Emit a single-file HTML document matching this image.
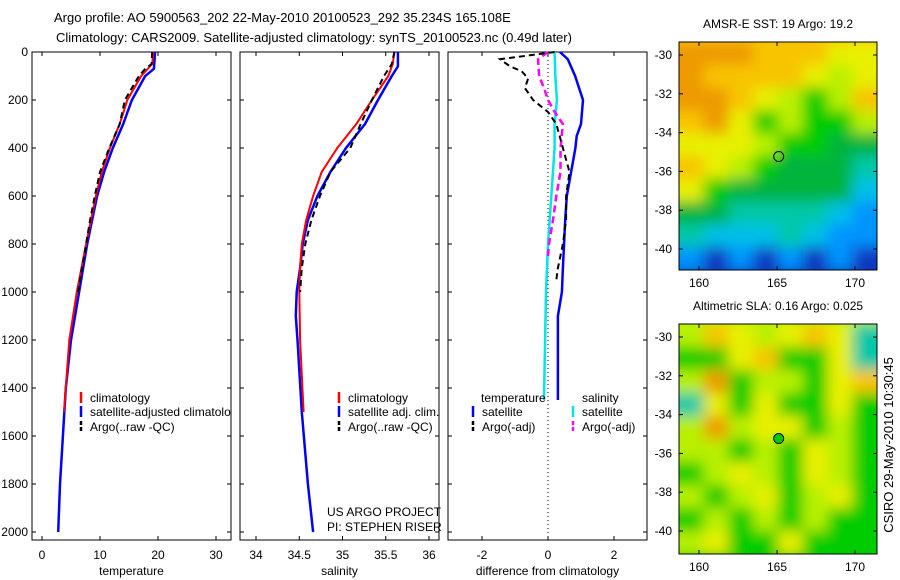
<!DOCTYPE html>
<html><head><meta charset="utf-8">
<style>
body{margin:0;background:#fff;width:900px;height:580px;overflow:hidden}
svg{display:block;font-family:"Liberation Sans",sans-serif}
</style></head><body>
<svg id="c" width="900" height="580" xmlns="http://www.w3.org/2000/svg">
<defs><filter id="bl" x="-10%" y="-10%" width="120%" height="120%"><feGaussianBlur stdDeviation="7"/></filter></defs>
<text x="54" y="22" font-size="13">Argo profile: AO 5900563_202 22-May-2010 20100523_292 35.234S 165.108E</text>
<text x="56" y="42" font-size="13">Climatology: CARS2009. Satellite-adjusted climatology: synTS_20100523.nc (0.49d later)</text>
</svg>
<script>
// ---- data ----
const tempDepthRed=[0,50,100,200,300,400,500,600,800,1000,1200,1500];
const tempRed=[19.2,19.0,17.1,14.7,13.4,11.7,10.3,9.3,7.6,6.0,4.7,3.8];
const tempDepthBlue=[0,70,100,200,300,400,500,600,800,1000,1200,1400,1600,1800,2000];
const tempBlue=[19.5,19.3,17.8,15.5,14.0,12.2,10.7,9.5,7.8,6.4,5.0,4.1,3.6,3.1,2.8];
const tempDepthArgo=[0,50,70,100,200,300,400,500,600,700,800,900,1000];
const tempArgo=[19.0,18.9,17.8,16.7,14.3,13.4,11.6,10.0,9.1,8.3,7.6,6.9,6.2];
const salDepthRed=[0,50,100,200,300,400,500,600,700,800,900,1000,1200,1500];
const salRed=[35.6,35.58,35.53,35.34,35.16,34.94,34.76,34.66,34.58,34.53,34.51,34.5,34.51,34.55];
const salDepthBlue=[0,60,100,200,300,400,500,600,700,800,900,1000,1100,1200,1500,1800,2000];
const salBlue=[35.64,35.64,35.57,35.41,35.26,35.04,34.86,34.71,34.6,34.54,34.51,34.47,34.46,34.48,34.53,34.6,34.66];
const salDepthArgo=[0,50,100,200,300,400,500,600,700,800,900,1000];
const salArgo=[35.6,35.57,35.48,35.34,35.21,35.09,34.86,34.74,34.64,34.57,34.53,34.51];
const diffDepthTSat=[0,30,100,200,300,350,400,500,600,700,900,1000,1100,1450];
const diffTSat=[0.36,0.6,0.82,1.06,1.0,0.87,0.83,0.7,0.57,0.52,0.45,0.42,0.3,0.3];
const diffDepthTArgo=[0,30,60,80,110,150,200,250,300,400,500,600,700,800,900,950];
const diffTArgo=[0.2,-1.45,-1.15,-0.8,-0.6,-0.7,-0.45,0,0.25,0.45,0.65,0.55,0.55,0.45,0.3,0.25];
const diffDepthSSat=[0,100,200,300,400,600,800,1000,1450];
const diffSSat=[0.2,0.22,0.27,0.2,0.2,0.1,0.0,-0.06,-0.12];
const diffDepthSArgo=[0,30,100,150,200,250,300,400,500,600,700,800,850];
const diffSArgo=[0.0,-0.3,-0.27,-0.12,0,0.2,0.45,0.38,0.38,0.25,0.15,0.03,0.0];
const depthTicks=[0,200,400,600,800,1000,1200,1400,1600,1800,2000];
const tempTicks=[0,10,20,30];
const salTicks=[34,34.5,35,35.5,36];
const diffTicks=[-2,0,2];
const lonTicks=[160,165,170];
const latTicks=[-30,-32,-34,-36,-38,-40];
const sstGrid=["OOOoooYY","OooooYyY","OOoYyGyo","oOYGyGGy","YYYyGGgg","oYyGgggT","YGgggggC","ggTTTTCB","TCCCTCBB","BDBDBDBD"];
const slaGrid=["yoYyYoYT","GGYoGGYT","yOGyyGYo","TYGYGGYG","yOyYYGyG","yyGyGYyG","GyYyGYyG","yGyYGyYG","GyGyGyGG","yYGGYGGG"];

const svg=document.getElementById('c');const NS='http://www.w3.org/2000/svg';
function mk(t,a,p){const e=document.createElementNS(NS,t);for(const k in a)e.setAttribute(k,a[k]);(p||svg).appendChild(e);return e;}
const Y=d=>52+d*0.24;
const panels=[
 {x0:32,x1:231,X:v=>42+5.8*v,ticks:tempTicks,lab:"temperature",name:"temperature-panel"},
 {x0:240,x1:439,X:v=>256+86.5*(v-34),ticks:salTicks,lab:"salinity",name:"salinity-panel"},
 {x0:448,x1:647,X:v=>548+33*v,ticks:diffTicks,lab:"difference from climatology",name:"difference-panel"}];
const yT=52,yB=540;
panels.forEach((p,i)=>{
 const g=mk('g',{});
 
 
 mk('rect',{x:p.x0,y:yT,width:p.x1-p.x0,height:yB-yT,fill:'#fff',stroke:'#000','stroke-width':1},g);
 depthTicks.forEach(d=>{mk('line',{x1:p.x0,x2:p.x0+4,y1:Y(d),y2:Y(d),stroke:'#000'},g);mk('line',{x1:p.x1,x2:p.x1-4,y1:Y(d),y2:Y(d),stroke:'#000'},g);
  if(i==0){const t=mk('text',{x:28,y:Y(d)+4,'font-size':12,'text-anchor':'end'});t.textContent=d;}});
 p.ticks.forEach(v=>{const x=p.X(v);mk('line',{x1:x,x2:x,y1:yT,y2:yT+4,stroke:'#000'},g);mk('line',{x1:x,x2:x,y1:yB,y2:yB-4,stroke:'#000'},g);
  const t=mk('text',{x:x,y:559,'font-size':12,'text-anchor':'middle'});t.textContent=v;});
 const t=mk('text',{x:(p.x0+p.x1)/2,y:575,'font-size':12,'text-anchor':'middle'});t.textContent=p.lab;
 
});
function line(p,ds,vs,col,w,dash,name){
 const pts=ds.map((d,k)=>p.X(vs[k]).toFixed(1)+','+Y(d).toFixed(1)).join(' ');
 const e=mk('polyline',{points:pts,fill:'none',stroke:col,'stroke-width':w});
 if(dash)e.setAttribute('stroke-dasharray',dash);
 }
mk('line',{x1:548,x2:548,y1:yT,y2:yB,stroke:'#000','stroke-dasharray':'1,3'});
line(panels[0],tempDepthBlue,tempBlue,'#0000ff',2.5,null,'temp-satellite-line');
line(panels[0],tempDepthRed,tempRed,'#ff0000',2,null,'temp-climatology-line');
line(panels[0],tempDepthArgo,tempArgo,'#000',2,'6,4','temp-argo-line');
line(panels[1],salDepthBlue,salBlue,'#0000ff',2.5,null,'sal-satellite-line');
line(panels[1],salDepthRed,salRed,'#ff0000',2,null,'sal-climatology-line');
line(panels[1],salDepthArgo,salArgo,'#000',2,'6,4','sal-argo-line');
line(panels[2],diffDepthTSat,diffTSat,'#0000ff',2.5,null,'diff-temp-satellite-line');
line(panels[2],diffDepthSSat,diffSSat,'#00e5e5',2.5,null,'diff-sal-satellite-line');
line(panels[2],diffDepthSArgo,diffSArgo,'#ff00ff',2.5,'7,4','diff-sal-argo-line');
line(panels[2],diffDepthTArgo,diffTArgo,'#000',2,'6,4','diff-temp-argo-line');
// legends
function leg(x,y,col,txt,dash){
 if(col){const l=mk('line',{x1:x,x2:x,y1:y-10,y2:y+1,stroke:col,'stroke-width':2.5});if(dash)l.setAttribute('stroke-dasharray','4,2');}
 const t=mk('text',{x:x+(col?9:0),y:y,'font-size':12});t.textContent=txt;return t;}
const clip=mk('clipPath',{id:'cp1'});mk('rect',{x:32,y:380,width:199,height:60},clip);
const l1=mk('g',{'clip-path':'url(#cp1)'});
[['#ff0000','climatology',402],['#0000ff','satellite-adjusted climatology',416],['#000','Argo(..raw -QC)',431]].forEach(a=>{
 const l=mk('line',{x1:81,x2:81,y1:a[2]-10,y2:a[2]+1,stroke:a[0],'stroke-width':2.5},l1);if(a[0]=='#000')l.setAttribute('stroke-dasharray','4,2');
 const t=mk('text',{x:90,y:a[2],'font-size':12},l1);t.textContent=a[1];});
leg(339,402,'#ff0000','climatology');leg(339,416,'#0000ff','satellite adj. clim.');leg(339,431,'#000','Argo(..raw -QC)',1);
leg(481,402,null,'temperature');leg(582,402,null,'salinity');
leg(473,416,'#0000ff','satellite');leg(573,416,'#00e5e5','satellite');
leg(473,431,'#000','Argo(-adj)',1);leg(573,431,'#ff00ff','Argo(-adj)',1);
leg(327,516,null,'US ARGO PROJECT');leg(327,531,null,'PI: STEPHEN RISER');
// maps
const cols={O:'#ee9a00',o:'#f8c400',Y:'#e8f000',y:'#b8f000',G:'#00cc00',g:'#00b43c',T:'#00c8a8',C:'#00c0e8',B:'#0094ff',D:'#0838c0'};
function map(y0,y1,grid,title,name,dotFill,cid){
 const g=mk('g',{});
 const x0=679,x1=877,cw=(x1-x0)/8,ch=(y1-y0)/grid.length;
 const cp=mk('clipPath',{id:cid});mk('rect',{x:x0,y:y0,width:x1-x0,height:y1-y0},cp);
 const cg=mk('g',{'clip-path':'url(#'+cid+')'},g);
 const bg=mk('g',{filter:'url(#bl)'},cg);
 grid.forEach((r,i)=>{for(let j=-1;j<9;j++){const c=r[Math.max(0,Math.min(7,j))];
   mk('rect',{x:x0+j*cw,y:y0+i*ch,width:cw+0.5,height:ch+0.5,fill:cols[c]},bg);}});
 mk('rect',{x:x0-cw,y:y1,width:(x1-x0)+2*cw,height:ch,fill:cols[grid[grid.length-1][3]]},bg);
 mk('rect',{x:x0-cw,y:y0-ch,width:(x1-x0)+2*cw,height:ch,fill:cols[grid[0][3]]},bg);
 mk('rect',{x:x0,y:y0,width:x1-x0,height:y1-y0,fill:'none',stroke:'#000'},g);
 const LX=v=>699+15.6*(v-160);const la30=y0+13,LY=v=>la30+19.4*(-30-v);
 lonTicks.forEach(v=>{mk('line',{x1:LX(v),x2:LX(v),y1:y1,y2:y1-4,stroke:'#000'},g);mk('line',{x1:LX(v),x2:LX(v),y1:y0,y2:y0+4,stroke:'#000'},g);
  const t=mk('text',{x:LX(v),y:y1+17,'font-size':12,'text-anchor':'middle'},g);t.textContent=v;});
 latTicks.forEach(v=>{mk('line',{x1:x0,x2:x0+4,y1:LY(v),y2:LY(v),stroke:'#000'},g);mk('line',{x1:x1,x2:x1-4,y1:LY(v),y2:LY(v),stroke:'#000'},g);
  const t=mk('text',{x:672,y:LY(v)+4,'font-size':12,'text-anchor':'end'},g);t.textContent=v;});
 mk('circle',{cx:LX(165.108),cy:LY(-35.234),r:5,fill:dotFill,stroke:'#000'},g);
 const t=mk('text',{x:778,y:y0-14,'font-size':12,'text-anchor':'middle'});t.textContent=title;
 
}
map(42,270,sstGrid,'AMSR-E SST: 19 Argo: 19.2','sst-map','none','mc1');
map(324,554,slaGrid,'Altimetric SLA: 0.16 Argo: 0.025','sla-map','#00cc00','mc2');
const r=mk('text',{x:0,y:0,'font-size':13,'text-anchor':'middle',transform:'translate(893,445) rotate(-90)'});
r.textContent='CSIRO 29-May-2010 10:30:45';


</script>
</body></html>
